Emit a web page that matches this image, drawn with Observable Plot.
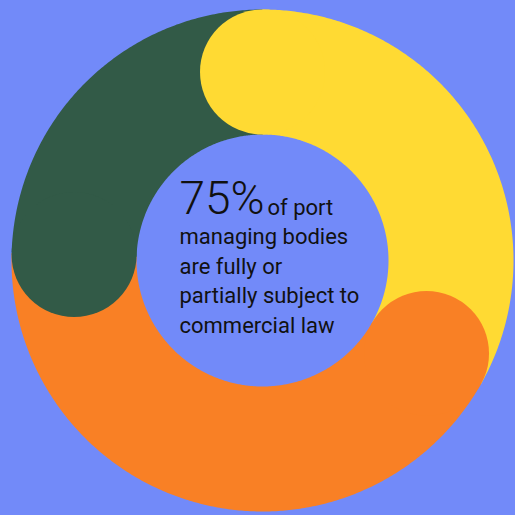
<!DOCTYPE html>
<html><head><meta charset="utf-8">
<script src="https://cdn.jsdelivr.net/npm/d3@7"></script>
<script src="https://cdn.jsdelivr.net/npm/@observablehq/plot@0.6"></script>
<style>
html,body{margin:0;padding:0;background:#728AF9;overflow:hidden;}
#chart svg{display:block;}
</style></head><body><div id="chart"></div>
<script>
// ---- data ----
const categories = ["Fully subject", "Partially subject", "Not subject"];
const shares = [33.2, 42.3, 24.5];           // percent of the ring, clockwise from 12 o'clock
const colors = ["#FFDA33", "#F98025", "#325A47"];
const headline = "75%";
const headlineRest = "of port";
const bodyLines = ["managing bodies", "are fully or", "partially subject to", "commercial law"];

// ---- layout ----
const W = 515, H = 515;
const cx = 262, cy = 260;
const rOuter = 251, rInner = 126;
const rMid = (rOuter + rInner) / 2, band = rOuter - rInner;

const total = d3.sum(shares);
const arcs = [], caps = [];
let cum = 0;
categories.forEach((c, i) => {
  const a0 = cum / total * 2 * Math.PI;
  cum += shares[i];
  const a1 = cum / total * 2 * Math.PI;
  const steps = Math.ceil((a1 - a0) / (Math.PI / 360));
  for (let k = 0; k <= steps; ++k) {
    const a = a0 + (a1 - a0) * k / steps;
    arcs.push({c, x: rMid * Math.sin(a), y: -rMid * Math.cos(a)});
  }
  caps.push({c, x: rMid * Math.sin(a0), y: -rMid * Math.cos(a0)});
});

const chart = Plot.plot({
  width: W, height: H, margin: 0,
  style: {background: "#728AF9", overflow: "visible"},
  x: {domain: [-cx, W - cx], range: [0, W], axis: null},
  y: {domain: [-cy, H - cy], range: [0, H], axis: null},
  color: {type: "ordinal", domain: categories, range: colors},
  marks: [
    Plot.line(arcs, {x: "x", y: "y", z: "c", stroke: "c", strokeWidth: band, strokeLinecap: "butt", strokeLinejoin: "round"}),
    Plot.dot(caps, {x: "x", y: "y", r: band / 2, fill: "c", stroke: null}),
    Plot.text([headline], {x: -83, y: -47, text: d => d, textAnchor: "start", lineAnchor: "bottom",
      fontSize: 46, fontWeight: 300, fontFamily: "Roboto", fill: "#111"}),
    Plot.text([headlineRest], {x: 5, y: -46, text: d => d, textAnchor: "start", lineAnchor: "bottom",
      fontSize: 22, fontFamily: "Roboto", fill: "#111"}),
    Plot.text([bodyLines.join("\n")], {x: -83, y: 72, text: d => d, textAnchor: "start", lineAnchor: "bottom",
      lineHeight: 1.34, fontSize: 22, fontFamily: "Roboto", fill: "#111"})
  ]
});
document.getElementById("chart").append(chart);
</script></body></html>
